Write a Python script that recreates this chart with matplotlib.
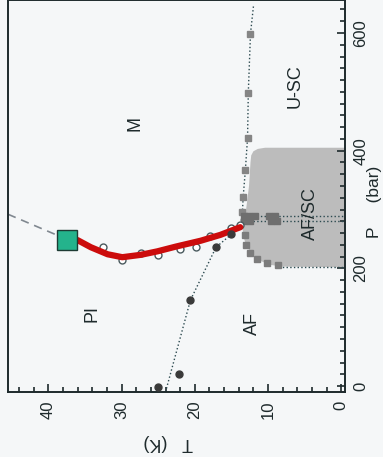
import matplotlib
matplotlib.use("Agg")
import matplotlib.pyplot as plt
from matplotlib.ticker import MultipleLocator
from matplotlib.patches import Polygon

plt.rcParams['font.family'] = ['Liberation Sans', 'DejaVu Sans']

# first-order line (red) ending at the critical point (green square)
crit_T = [37.4]
crit_P = [249]
red_T = [37.4, 36.0, 34.2, 31.9, 29.9, 27.4, 25.1, 22.6, 19.2, 16.5, 13.8]
red_P = [249, 248, 236, 224, 219, 223, 229, 237, 247, 257, 270]
# crossover extension above the critical point
cross_T = [45.5, 37.4]
cross_P = [292, 249]

# open circles: measured first-order transition
open_T = [32.5, 29.9, 27.4, 25.0, 22.0, 19.9, 17.9, 15.1, 13.8]
open_P = [236, 214, 226, 223, 233, 236, 255, 269, 274]

# filled circles: Neel line
af_T = [25.0, 22.1, 20.6, 17.1, 15.0]
af_P = [-2, 20, 146, 236, 258]
af_line_T = [24.0, 20.6, 17.1, 15.0, 13.6]
af_line_P = [-10, 146, 236, 258, 272]

# squares: superconducting Tc line
usc_T = [12.4, 12.7, 12.8, 13.1, 13.4, 13.5]
usc_P = [599, 498, 422, 367, 321, 296]
usc_line_T = [12.0, 12.4, 12.7, 12.8, 13.1, 13.4, 13.5, 13.8]
usc_line_P = [645, 599, 498, 422, 367, 321, 296, 270]

# AF/SC coexistence data
afsc_T = [13.3, 12.6, 11.8, 9.9, 9.0, 13.3, 12.4, 9.6, 8.8]
afsc_P = [289, 289, 289, 289, 289, 281, 281, 281, 281]
afsc_lines_P = [289, 281]
edge_T = [13.2, 13.0, 12.4, 11.5, 10.2, 8.7]
edge_P = [257, 240, 226, 216, 209, 206]

# shaded AF/SC region outline
region_T = [-0.5, 10.4, 11.4, 12.0, 12.3, 12.4, 12.6, 13.0, 13.5, 13.4, 13.0, 12.4, 11.3, 9.7, 8.0, -0.5]
region_P = [405, 405, 403, 399, 392, 380, 340, 300, 275, 255, 240, 228, 214, 206, 203, 202]

phase_labels = ["M", "U-SC", "AF/SC", "PI", "AF"]
label_T = [28.1, 6.3, 4.2, 34.0, 12.1]
label_P = [447, 510, 294, 124, 107]

bg = "#f5f7f8"
ink = "#1e2a2c"
dot = "#2c4a50"

fig = plt.figure(figsize=(3.83, 4.57), dpi=100, facecolor=bg)
ax = fig.add_axes([8 / 383, 65 / 457, 337 / 383, 392 / 457], facecolor=bg)

ax.add_patch(Polygon(list(zip(region_T, region_P)), closed=True,
                     facecolor="#bcbcbc", edgecolor="none", zorder=1))

ax.plot(cross_T, cross_P, color="#808890", lw=1.2, ls=(0, (5, 3.5)), zorder=2)

ax.plot(af_line_T, af_line_P, color=dot, lw=1, ls=":", zorder=2)
ax.plot(usc_line_T, usc_line_P, color=dot, lw=1, ls=":", zorder=2)
for p in afsc_lines_P:
    ax.plot([13.6, -0.5], [p, p], color=dot, lw=1, ls=":", zorder=2)
ax.plot([9.0, -0.5], [203, 203], color=dot, lw=1, ls=":", zorder=2)

ax.plot(usc_T, usc_P, ls="none", marker="s", ms=5, color="#858585", zorder=3)
ax.plot(edge_T, edge_P, ls="none", marker="s", ms=5, color="#7c7c7c", zorder=3)
ax.plot(afsc_T, afsc_P, ls="none", marker="s", ms=5, color="#6e6e6e", zorder=3)

ax.plot(open_T, open_P, ls="none", marker="o", ms=5, mfc="white",
        mec="#4a5a5e", mew=1, zorder=3)
ax.plot(red_T, red_P, color="#cc0c0c", lw=4.5, solid_capstyle="round", zorder=4)
ax.plot(af_T, af_P, ls="none", marker="o", ms=5, color="#3a3a3a", zorder=5)
ax.plot(crit_T, crit_P, ls="none", marker="s", ms=14, mfc="#24b38c",
        mec="#1d3b34", mew=1, zorder=6)

for name, t, p in zip(phase_labels, label_T, label_P):
    ax.text(t, p, name, rotation=90, ha="center", va="center",
            fontsize=13, color=ink, zorder=7)

ax.set_xlim(45.5, -0.5)
ax.set_ylim(-10, 656)
ax.xaxis.set_major_locator(MultipleLocator(10))
ax.xaxis.set_minor_locator(MultipleLocator(2))
ax.yaxis.set_major_locator(MultipleLocator(200))
ax.yaxis.set_minor_locator(MultipleLocator(20))
ax.yaxis.tick_right()
ax.tick_params(which="both", direction="in", bottom=True, top=False,
               left=False, right=True, color=ink, width=1.2)
ax.tick_params(which="major", length=6, pad=6, labelsize=12, labelcolor=ink)
ax.tick_params(which="minor", length=3.5)
ax.tick_params(axis="x", labelrotation=90)
ax.tick_params(axis="y", labelrotation=90)
for lab in ax.get_yticklabels():
    lab.set_va("center")

for s in ax.spines.values():
    s.set_color(ink)
    s.set_linewidth(1.4)

ax.set_xlabel("T   (K)", rotation=180, fontsize=13, color=ink, ha="center", va="center")
ax.xaxis.set_label_coords(0.475, -0.13)
ax.set_ylabel("P     (bar)", rotation=90, fontsize=12.5, color=ink, ha="center", va="center")
ax.yaxis.set_label_position("right")
ax.yaxis.set_label_coords(1.064, 0.485)

fig.savefig("out.png", dpi=100, facecolor=bg)
